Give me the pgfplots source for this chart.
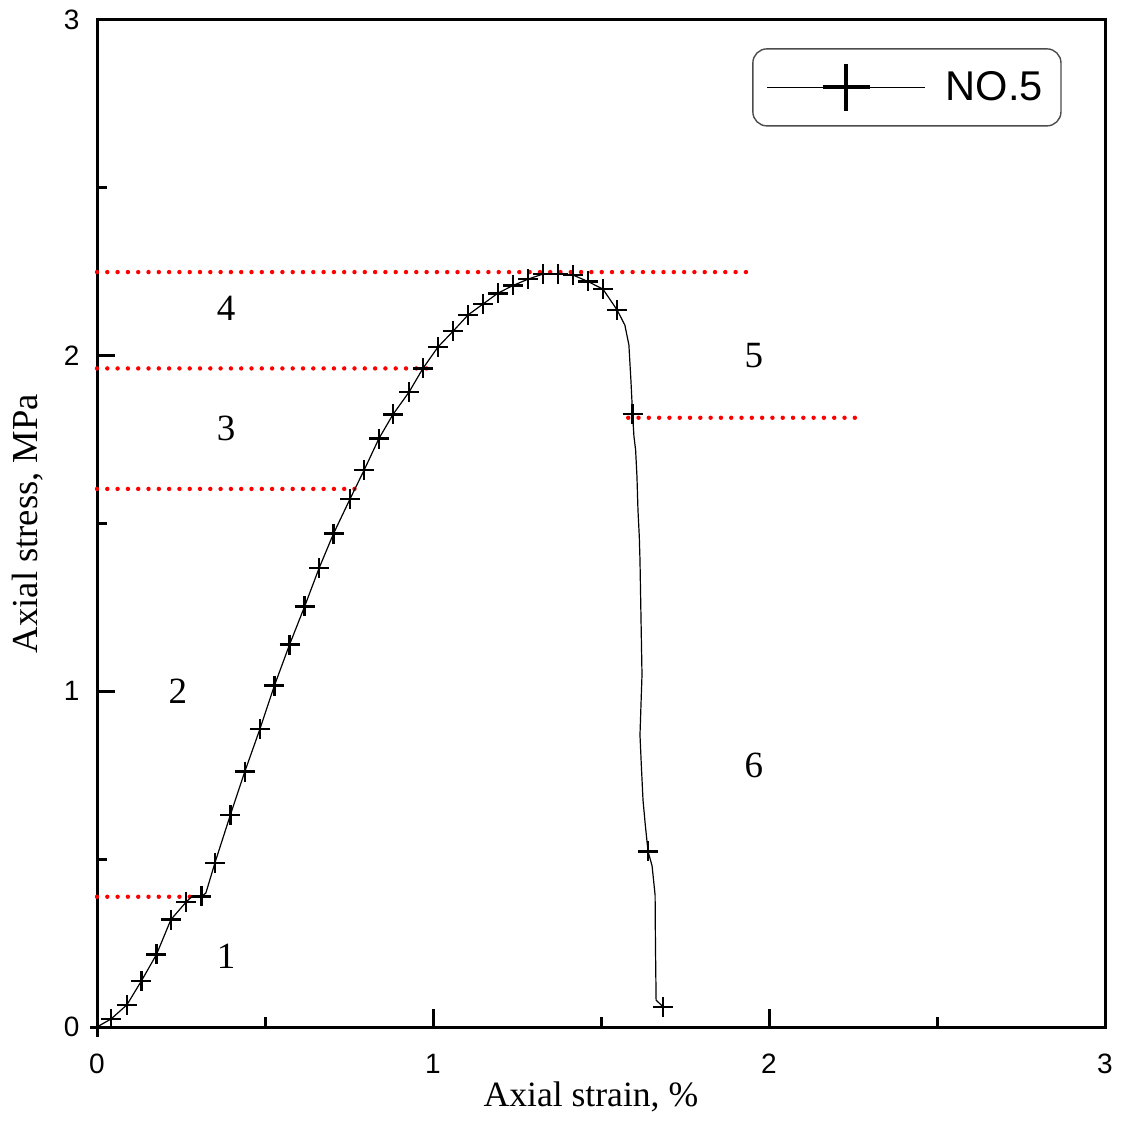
\documentclass[border=0pt]{standalone}
\usepackage{pgfplots}
\pgfplotsset{compat=1.18}
\usepackage{fontspec}
\setmainfont{Liberation Serif}
\newfontfamily\arial{Liberation Sans}

\pgfplotstableread{
x y
0.000 0.000
0.042 0.024
0.089 0.066
0.132 0.137
0.177 0.216
0.220 0.320
0.265 0.372
0.280 0.387
0.311 0.389
0.324 0.399
0.351 0.489
0.397 0.632
0.440 0.761
0.485 0.888
0.528 1.017
0.573 1.139
0.618 1.253
0.661 1.367
0.704 1.470
0.753 1.573
0.795 1.659
0.839 1.753
0.881 1.825
0.929 1.892
0.970 1.962
1.015 2.026
1.060 2.073
1.104 2.121
1.149 2.154
1.193 2.186
1.238 2.209
1.283 2.228
1.327 2.243
1.372 2.243
1.417 2.240
1.461 2.221
1.506 2.198
1.548 2.136
1.571 2.091
1.583 2.032
1.589 1.927
1.594 1.826
1.598 1.760
1.603 1.719
1.607 1.640
1.610 1.540
1.614 1.460
1.616 1.391
1.619 1.220
1.622 1.049
1.619 0.960
1.616 0.870
1.620 0.780
1.625 0.676
1.632 0.600
1.640 0.523
1.652 0.480
1.661 0.393
1.662 0.250
1.664 0.080
1.685 0.060
}\curve

\pgfplotstableread{
x y
0.042 0.024
0.089 0.066
0.132 0.137
0.177 0.216
0.220 0.320
0.265 0.372
0.311 0.389
0.351 0.489
0.397 0.632
0.440 0.761
0.485 0.888
0.528 1.017
0.573 1.139
0.618 1.253
0.661 1.367
0.704 1.470
0.753 1.573
0.795 1.659
0.839 1.753
0.881 1.825
0.929 1.892
0.970 1.962
1.015 2.026
1.060 2.073
1.104 2.121
1.149 2.154
1.193 2.186
1.238 2.209
1.283 2.228
1.327 2.243
1.372 2.243
1.417 2.240
1.461 2.221
1.506 2.198
1.548 2.136
1.594 1.826
1.640 0.523
1.685 0.060
}\marks

\begin{document}
\begin{tikzpicture}
\path[use as bounding box] (-48.5pt,-47.5pt) rectangle (511.5pt,513.5pt);
\begin{axis}[
  at={(0,0)}, anchor=south west,
  scale only axis, width=504pt, height=503.5pt,
  xmin=0, xmax=3, ymin=0, ymax=3,
  xtick={0,1,2,3}, ytick={0,1,2,3},
  minor tick num=1,
  tick align=inside, tick pos=left,
  major tick length=9pt, minor tick length=5pt,
  every tick/.style={black, line width=1.5pt},
  axis line style={line width=1.5pt},
  /pgf/number format/assume math mode=true,
  ticklabel style={font=\arial\fontsize{14}{16}\selectfont},
  yticklabel style={xshift=-5.3pt},
  xticklabel style={yshift=-10pt},
  xlabel={Axial strain, \%},
  ylabel={Axial stress, MPa},
  xlabel style={font=\fontsize{17.8}{20}\selectfont, at={(axis description cs:0.490,-0.0695)}, anchor=center},
  ylabel style={font=\fontsize{18.3}{20}\selectfont, at={(axis description cs:-0.0685,0.5)}, anchor=center},
  clip=false,
  legend style={at={(rel axis cs:0.957,0.972)}, anchor=north east,
    rounded corners=7pt, draw=black!70, line width=0.7pt,
    inner xsep=7pt, inner ysep=7.5pt,
    font=\arial\fontsize{20.8}{24}\selectfont,
    /tikz/every odd column/.style={column sep=8pt}},
  legend image code/.code={\draw[mark repeat=2,mark phase=2,#1] plot coordinates {(0pt,0pt) (39.5pt,0pt) (79pt,0pt)};},
  reddot/.style={red, line width=2.2pt, line cap=round, dash pattern=on 0pt off 5.15pt},
]
\addplot[reddot, forget plot] coordinates {(0,0.388) (0.30,0.388)};
\addplot[reddot, forget plot] coordinates {(0,1.603) (0.768,1.603)};
\addplot[reddot, forget plot] coordinates {(0,1.962) (0.991,1.962)};
\addplot[reddot, forget plot] coordinates {(0,2.249) (1.938,2.249)};
\addplot[reddot, forget plot] coordinates {(1.581,1.815) (2.286,1.815)};
\addplot[black, line width=0.6pt, forget plot] table[x=x,y=y] {\curve};
\addplot[black, only marks, mark=+, mark size=5pt, mark options={line width=1.3pt}, forget plot] table[x=x,y=y] {\marks};
\addlegendimage{black, line width=0.5pt, mark=+, mark size=11.75pt, mark options={line width=2pt}}
\addlegendentry{NO.5}
\node[font=\fontsize{18.5}{20}\selectfont] at (axis cs:0.384,0.211) {1};
\node[font=\fontsize{18.5}{20}\selectfont] at (axis cs:0.241,1.001) {2};
\node[font=\fontsize{18.5}{20}\selectfont] at (axis cs:0.384,1.784) {3};
\node[font=\fontsize{18.5}{20}\selectfont] at (axis cs:0.384,2.142) {4};
\node[font=\fontsize{18.5}{20}\selectfont] at (axis cs:1.955,1.999) {5};
\node[font=\fontsize{18.5}{20}\selectfont] at (axis cs:1.955,0.780) {6};
\draw[line width=1.5pt] (axis cs:0,0) -- ([xshift=-3.5pt]axis cs:0,0);
\draw[line width=1.5pt] (axis cs:0,0) -- ([yshift=-5pt]axis cs:0,0);
\end{axis}
\end{tikzpicture}
\end{document}
